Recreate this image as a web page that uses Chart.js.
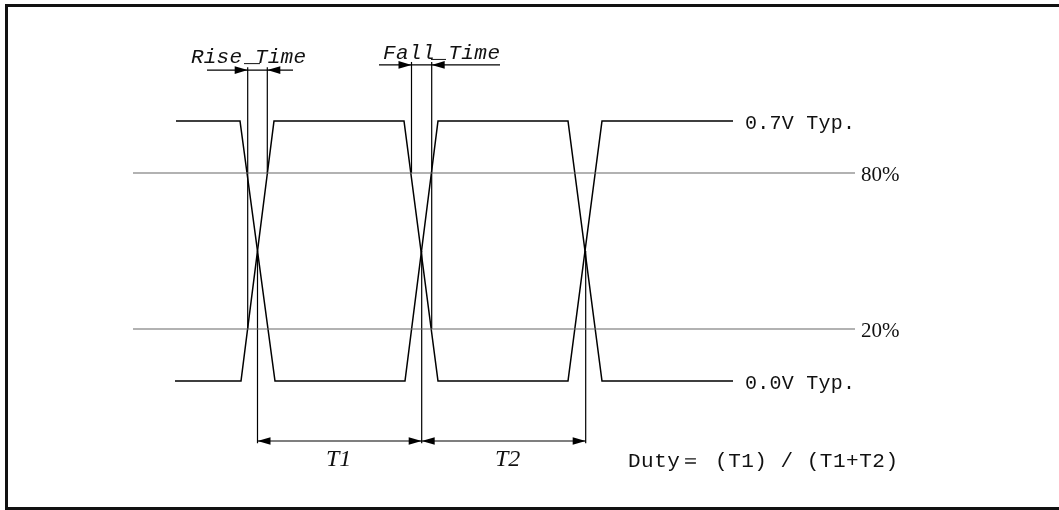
<!DOCTYPE html>
<html>
<head>
<meta charset="utf-8">
<script src="https://cdn.jsdelivr.net/npm/chart.js@4.4.0/dist/chart.umd.min.js"></script>
<style>
  html, body { margin: 0; padding: 0; background: #fff; }
  #wrap { width: 1059px; height: 510px; }
</style>
</head>
<body>
<div id="wrap"><canvas id="timing-chart" width="1059" height="510"></canvas></div>
<script>
// waveform data: x = time (arbitrary units), y = volts
var signalA = [[176, 0.7], [240, 0.7], [275, 0], [405, 0], [438, 0.7], [568, 0.7], [602, 0], [733, 0]];
var signalB = [[175, 0], [241, 0], [274, 0.7], [404, 0.7], [438, 0], [568, 0], [602, 0.7], [733, 0.7]];
var levelValues = [0.7, 0.0];
var levelLabels = ['0.7V Typ.', '0.0V Typ.'];
var thresholdValues = [0.56, 0.14];
var thresholdLabels = ['80%', '20%'];
var thresholdSpan = [133, 855];
var crossTimes = [257.5, 421.7, 585.7];
var crossLevel = 0.35;
var riseTimes = [247.7, 267.3];   // measured 20% -> 80%
var fallTimes = [411.5, 431.7];   // measured 80% -> 20%
var riseSpan = [207, 293];
var fallSpan = [379, 500];
var riseDimLevel = 0.837;
var fallDimLevel = 0.851;
var periodDimLevel = -0.1615;
var periodLabels = ['T1', 'T2'];
var dutyText = 'Duty\uFF1D (T1) / (T1+T2)';

function toPoints(arr) {
    return arr.map(function(p) { return { x: p[0], y: p[1] }; });
}

function segment(x1, y1, x2, y2, color, width) {
    return {
        data: [{ x: x1, y: y1 }, { x: x2, y: y2 }],
        borderColor: color,
        borderWidth: width,
        showLine: true,
        pointRadius: 0,
        fill: false
    };
}

var datasets = [];
// 80% / 20% threshold lines
thresholdValues.forEach(function(v) {
    datasets.push(segment(thresholdSpan[0], v, thresholdSpan[1], v, '#666', 1.2));
});
// waveforms
[signalA, signalB].forEach(function(s) {
    datasets.push({
        data: toPoints(s),
        borderColor: '#000',
        borderWidth: 1.5,
        showLine: true,
        pointRadius: 0,
        tension: 0,
        fill: false
    });
});
// crossing verticals down to the T1/T2 dimension line
crossTimes.forEach(function(t) {
    datasets.push(segment(t, crossLevel, t, periodDimLevel - 0.006, '#000', 1.2));
});
// rise / fall extension lines
datasets.push(segment(riseTimes[0], thresholdValues[1], riseTimes[0], riseDimLevel + 0.008, '#000', 1.2));
datasets.push(segment(riseTimes[1], thresholdValues[0], riseTimes[1], riseDimLevel + 0.008, '#000', 1.2));
datasets.push(segment(fallTimes[0], thresholdValues[0], fallTimes[0], fallDimLevel + 0.008, '#000', 1.2));
datasets.push(segment(fallTimes[1], thresholdValues[1], fallTimes[1], fallDimLevel + 0.008, '#000', 1.2));
// dimension lines
datasets.push(segment(riseSpan[0], riseDimLevel, riseSpan[1], riseDimLevel, '#000', 1.2));
datasets.push(segment(fallSpan[0], fallDimLevel, fallSpan[1], fallDimLevel, '#000', 1.2));
datasets.push(segment(crossTimes[0], periodDimLevel, crossTimes[2], periodDimLevel, '#000', 1.2));

function drawArrow(ctx, x, y, dir) {
    ctx.beginPath();
    ctx.moveTo(x, y);
    ctx.lineTo(x - dir * 13, y - 3.8);
    ctx.lineTo(x - dir * 13, y + 3.8);
    ctx.closePath();
    ctx.fill();
}

// draw text stretched to a given width with letter spacing
function fitText(ctx, text, x, y, width) {
    ctx.letterSpacing = '0px';
    var natural = ctx.measureText(text).width;
    var n = Array.from(text).length;
    var sp = Math.max(0, (width - natural) / (n - 1));
    ctx.letterSpacing = sp + 'px';
    ctx.fillText(text, x, y);
    ctx.letterSpacing = '0px';
}

var annotationPlugin = {
    id: 'timingAnnotations',
    afterDraw: function(chart) {
        var ctx = chart.ctx;
        var xs = chart.scales.x, ys = chart.scales.y;
        var px = function(v) { return xs.getPixelForValue(v); };
        var py = function(v) { return ys.getPixelForValue(v); };
        ctx.save();

        // frame
        ctx.strokeStyle = '#111';
        ctx.lineWidth = 3;
        ctx.strokeRect(6.5, 5.5, 1200, 503);

        // arrows
        ctx.fillStyle = '#000';
        drawArrow(ctx, px(riseTimes[0]), py(riseDimLevel), 1);
        drawArrow(ctx, px(riseTimes[1]), py(riseDimLevel), -1);
        drawArrow(ctx, px(fallTimes[0]), py(fallDimLevel), 1);
        drawArrow(ctx, px(fallTimes[1]), py(fallDimLevel), -1);
        for (var i = 0; i < crossTimes.length - 1; i++) {
            drawArrow(ctx, px(crossTimes[i]), py(periodDimLevel), -1);
            drawArrow(ctx, px(crossTimes[i + 1]), py(periodDimLevel), 1);
        }

        ctx.fillStyle = '#111';
        ctx.textBaseline = 'alphabetic';
        ctx.textAlign = 'left';

        // level labels
        ctx.font = '20px "Liberation Mono", monospace';
        levelValues.forEach(function(v, i) {
            fitText(ctx, levelLabels[i], px(signalA[signalA.length - 1][0]) + 12, py(v) + 8, 110);
        });

        // threshold labels
        ctx.font = '21px "Liberation Serif", serif';
        thresholdValues.forEach(function(v, i) {
            ctx.fillText(thresholdLabels[i], px(thresholdSpan[1]) + 6, py(v) + 8);
        });

        // rise / fall labels
        ctx.font = 'italic 21px "Liberation Mono", monospace';
        fitText(ctx, 'Rise Time', 191, py(riseDimLevel) - 7, 115);
        fitText(ctx, 'Fall Time', 383, py(fallDimLevel) - 6, 117);
        // underscores under the word gaps
        ctx.lineWidth = 1;
        ctx.strokeStyle = '#111';
        ctx.beginPath();
        ctx.moveTo(244, py(riseDimLevel) - 6.5);
        ctx.lineTo(260, py(riseDimLevel) - 6.5);
        ctx.moveTo(431, py(fallDimLevel) - 5.5);
        ctx.lineTo(446, py(fallDimLevel) - 5.5);
        ctx.stroke();

        // period labels
        ctx.font = 'italic 24px "Liberation Serif", serif';
        ctx.textAlign = 'center';
        periodLabels.forEach(function(lbl, i) {
            var mid = (crossTimes[i] + crossTimes[i + 1]) / 2;
            ctx.fillText(lbl, px(mid) + (i === 0 ? -1 : 4), py(periodDimLevel) + 25);
        });

        // duty formula
        ctx.font = '21px "Liberation Mono", monospace';
        ctx.textAlign = 'left';
        fitText(ctx, dutyText, 628, py(periodDimLevel) + 26, 270);

        ctx.restore();
    }
};

new Chart(document.getElementById('timing-chart'), {
    type: 'scatter',
    data: { datasets: datasets },
    options: {
        responsive: false,
        animation: false,
        devicePixelRatio: 1,
        layout: { padding: 0 },
        scales: {
            x: { type: 'linear', min: 0, max: 1059, display: false },
            y: { type: 'linear', min: -0.3473, max: 1.0258, display: false }
        },
        plugins: {
            legend: { display: false },
            tooltip: { enabled: false }
        }
    },
    plugins: [annotationPlugin]
});
</script>
</body>
</html>
